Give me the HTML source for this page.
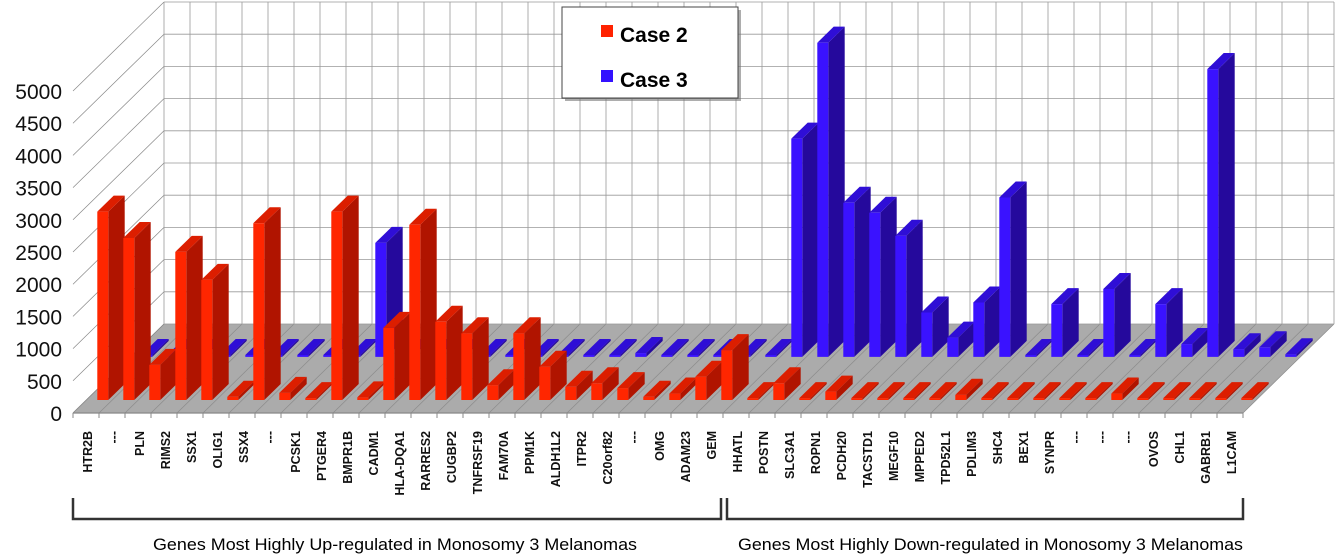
<!DOCTYPE html>
<html><head><meta charset="utf-8"><style>
html,body{margin:0;padding:0;background:#fff;}
svg{display:block;font-family:"Liberation Sans",sans-serif;}
</style></head><body>
<svg id="chart" width="1337" height="557" viewBox="0 0 1337 557" xmlns="http://www.w3.org/2000/svg">
<g id="walls"></g>
<g id="bars"></g>
<g id="labels"></g>
<g id="yaxis"></g>
<g>
<rect x="565" y="10" width="176" height="91" fill="#777" opacity="0.6"/>
<rect x="562" y="7" width="176" height="91" fill="#fff" stroke="#444" stroke-width="1"/>
<rect x="601" y="25" width="12" height="12" fill="#ff2200"/>
<text x="620" y="42" font-size="21" font-weight="bold">Case 2</text>
<rect x="601" y="70" width="12" height="12" fill="#3311ff"/>
<text x="620" y="87" font-size="21" font-weight="bold">Case 3</text>
</g>
<g stroke="#333" stroke-width="2.5" fill="none">
<path d="M73,498 V519 H721 V498"/>
<path d="M727,498 V519 H1243 V498"/>
</g>
<text x="153" y="550" font-size="17" textLength="484" lengthAdjust="spacingAndGlyphs">Genes Most Highly Up-regulated in Monosomy 3 Melanomas</text>
<text x="738" y="550" font-size="17" textLength="505" lengthAdjust="spacingAndGlyphs">Genes Most Highly Down-regulated in Monosomy 3 Melanomas</text>
</svg>
<script>
const categories=["HTR2B","---","PLN","RIMS2","SSX1","OLIG1","SSX4","---","PCSK1","PTGER4","BMPR1B","CADM1","HLA-DQA1","RARRES2","CUGBP2","TNFRSF19","FAM70A","PPM1K","ALDH1L2","ITPR2","C20orf82","---","OMG","ADAM23","GEM","HHATL","POSTN","SLC3A1","ROPN1","PCDH20","TACSTD1","MEGF10","MPPED2","TPD52L1","PDLIM3","SHC4","BEX1","SYNPR","---","---","---","OVOS","CHL1","GABRB1","L1CAM"];
const case2=[2925,2515,545,2300,1865,50,2745,110,30,2925,40,1120,2720,1215,1035,230,1035,515,205,260,185,50,100,360,775,30,260,30,130,30,30,30,30,80,30,30,30,30,30,100,30,30,30,30,30];
const case3=[30,30,30,30,30,30,30,30,30,1770,30,30,30,30,30,30,30,30,30,60,30,30,30,30,30,3390,4880,2395,2240,1880,690,300,845,2475,30,820,30,1055,30,820,200,4470,120,150,40];
const yTicks=[0,500,1000,1500,2000,2500,3000,3500,4000,4500,5000];

const NS="http://www.w3.org/2000/svg";
const X0=73, SLOT=26, Y0=413, DX=91, DY=89, K=0.0644, YMAX=5000;
function P(x,v,d){return [x+DX*d, Y0-DY*d-v*K];}
function el(tag,attrs,parent){const e=document.createElementNS(NS,tag);for(const k in attrs)e.setAttribute(k,attrs[k]);parent.appendChild(e);return e;}
function pts(a){return a.map(p=>p[0].toFixed(1)+","+p[1].toFixed(1)).join(" ");}
const N=categories.length, XE=X0+N*SLOT;
const walls=document.getElementById('walls');
const floor=el('polygon',{points:pts([P(X0,0,0),P(XE,0,0),P(XE,0,1),P(X0,0,1)]),fill:'#ababab'},walls);


for(let j=0;j<=N;j++){
  const a=P(X0+j*SLOT,0,0),b=P(X0+j*SLOT,0,1);
  const l=el('line',{x1:a[0],y1:a[1],x2:b[0],y2:b[1],stroke:'#8c8c8c','stroke-width':0.7},walls);
  
  
  const t=el('line',{x1:a[0],y1:a[1],x2:a[0],y2:a[1]+5,stroke:'#888','stroke-width':1},walls);
  
  
}
const fe=el('line',{x1:X0,y1:Y0,x2:XE,y2:Y0,stroke:'#888','stroke-width':1.2},walls);


for(let j=0;j<=N;j++){
  const a=P(X0+j*SLOT,0,1),b=P(X0+j*SLOT,YMAX,1);
  const l=el('line',{x1:a[0],y1:a[1],x2:b[0],y2:b[1],stroke:'#999','stroke-width':0.8},walls);
  
  
}
yTicks.forEach(v=>{
  const a=P(X0,v,1),b=P(XE,v,1);
  const l=el('line',{x1:a[0],y1:a[1],x2:b[0],y2:b[1],stroke:'#999','stroke-width':0.8},walls);
  
  
  const c=P(X0,v,0);
  const s=el('line',{x1:c[0],y1:c[1],x2:a[0],y2:a[1],stroke:'#888','stroke-width':0.7},walls);
  
  
});
const bars=document.getElementById('bars');
function drawBar(i,v,d0,d1,cols,name){
  const x0=X0+i*SLOT+11,x1=x0+11;
  const g=el('g',{},bars);
  
  
  el('polygon',{points:pts([P(x1,0,d0),P(x1,0,d1),P(x1,v,d1),P(x1,v,d0)]),fill:cols[1]},g);
  el('polygon',{points:pts([P(x0,v,d0),P(x1,v,d0),P(x1,v,d1),P(x0,v,d1)]),fill:cols[2]},g);
  el('polygon',{points:pts([P(x0,0,d0),P(x1,0,d0),P(x1,v,d0),P(x0,v,d0)]),fill:cols[0]},g);
}
case3.forEach((v,i)=>drawBar(i,v,0.63,0.81,['#3a12ff','#25099c','#2f0ed6'],'bar-case3'));
case2.forEach((v,i)=>drawBar(i,v,0.146,0.326,['#ff2600','#b01400','#dc1e00'],'bar-case2'));
const lab=document.getElementById('labels');
categories.forEach((c,i)=>{
  const x=X0+i*SLOT+SLOT/2+6, y=431;
  const t=el('text',{x:x,y:y,transform:`rotate(-90 ${x} ${y})`,'text-anchor':'end','font-size':12.5,'font-weight':'bold',fill:'#111'},lab);
  
  
  t.textContent=c;
});
const ya=document.getElementById('yaxis');
yTicks.forEach(v=>{
  const p=P(X0,v,0);
  const t=el('text',{x:62,y:p[1]+8,'text-anchor':'end','font-size':21,fill:'#111'},ya);
  
  
  t.textContent=v;
});
</script>
</body></html>
